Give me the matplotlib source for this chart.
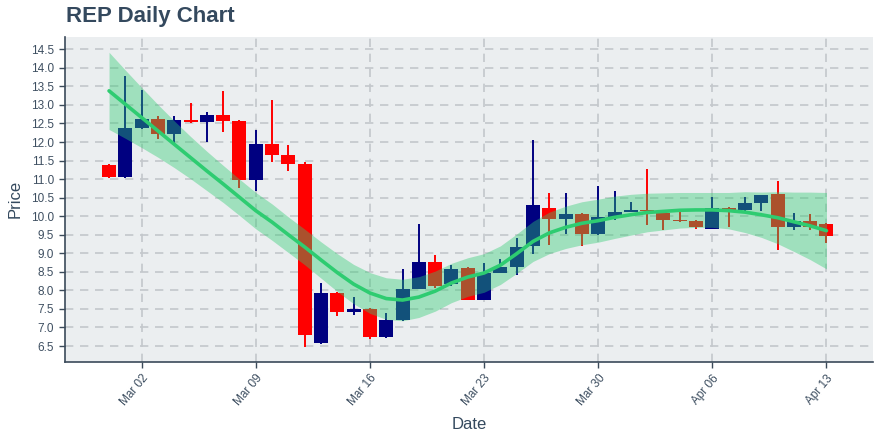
import datetime as dt
import matplotlib
matplotlib.use("Agg")
import matplotlib.pyplot as plt
import matplotlib.dates as mdates
import numpy as np

# ---- data ----
start_date = "2020-02-29"
n_days = 45

opens = [11.39, 11.07, 12.38, 12.62, 12.23, 12.60, 12.55, 12.73, 12.58, 10.98,
         11.95, 11.64, 11.42, 6.57, 7.93, 7.41, 7.50, 6.74, 7.21, 8.05,
         8.77, 8.18, 8.61, 7.75, 8.48, 8.64, 9.21, 10.23, 9.93, 10.07,
         9.51, 9.98, 10.12, 10.17, 10.10, 9.91, 9.88, 9.66, 10.23, 10.16,
         10.36, 10.60, 9.72, 9.88, 9.80]
highs = [11.40, 13.78, 13.40, 12.70, 12.70, 13.05, 12.81, 13.38, 12.60, 12.32,
         13.13, 11.91, 11.47, 8.20, 7.95, 7.82, 7.52, 7.39, 8.58, 9.79,
         8.95, 8.69, 8.63, 8.74, 8.84, 9.41, 12.06, 10.63, 10.62, 10.08,
         10.82, 10.69, 10.39, 11.27, 10.11, 10.13, 9.89, 10.53, 10.24, 10.53,
         10.57, 10.95, 10.10, 10.07, 9.81]
lows = [11.02, 11.02, 12.35, 12.08, 11.94, 12.50, 11.99, 12.28, 10.75, 10.69,
        11.47, 11.21, 6.47, 6.55, 7.32, 7.35, 6.70, 6.72, 7.17, 8.03,
        8.06, 8.11, 7.73, 7.74, 8.47, 8.41, 8.99, 9.23, 9.51, 9.19,
        9.50, 9.91, 10.11, 9.77, 9.62, 9.84, 9.66, 9.65, 9.71, 10.15,
        10.13, 9.10, 9.64, 9.63, 9.29]
closes = [11.07, 12.38, 12.62, 12.23, 12.60, 12.55, 12.73, 12.58, 10.98, 11.95,
          11.64, 11.42, 6.79, 7.94, 7.41, 7.50, 6.74, 7.21, 8.05, 8.77,
          8.11, 8.58, 7.75, 8.48, 8.64, 9.18, 10.31, 9.93, 10.07, 9.51,
          9.98, 10.12, 10.17, 10.13, 9.90, 9.88, 9.72, 10.23, 10.18, 10.36,
          10.56, 9.70, 9.88, 9.72, 9.46]

trend = [13.38, 13.02, 12.66, 12.30, 11.94, 11.58, 11.22, 10.87, 10.51, 10.15,
         9.84, 9.50, 9.17, 8.82, 8.48, 8.17, 7.93, 7.78, 7.74, 7.82,
         7.98, 8.20, 8.36, 8.47, 8.68, 8.99, 9.32, 9.55, 9.70, 9.81,
         9.88, 9.97, 10.04, 10.10, 10.13, 10.16, 10.17, 10.17, 10.15, 10.11,
         10.04, 9.96, 9.85, 9.74, 9.61]
band_upper = [14.42, 13.94, 13.47, 13.01, 12.57, 12.15, 11.75, 11.37, 11.00, 10.64,
              10.33, 9.98, 9.65, 9.31, 8.99, 8.70, 8.48, 8.34, 8.30, 8.37,
              8.52, 8.73, 8.88, 8.99, 9.20, 9.52, 9.86, 10.11, 10.27, 10.39,
              10.46, 10.54, 10.59, 10.62, 10.63, 10.64, 10.64, 10.64, 10.64, 10.66,
              10.65, 10.66, 10.65, 10.65, 10.64]
band_lower = [12.34, 12.10, 11.85, 11.59, 11.31, 11.01, 10.69, 10.37, 10.02, 9.66,
              9.35, 9.02, 8.69, 8.33, 7.97, 7.64, 7.38, 7.22, 7.18, 7.27,
              7.44, 7.67, 7.84, 7.95, 8.16, 8.46, 8.78, 8.99, 9.13, 9.23,
              9.30, 9.40, 9.49, 9.58, 9.63, 9.68, 9.70, 9.70, 9.66, 9.56,
              9.43, 9.26, 9.05, 8.83, 8.58]

y_ticks = [6.5, 7.0, 7.5, 8.0, 8.5, 9.0, 9.5, 10.0, 10.5, 11.0, 11.5, 12.0, 12.5, 13.0, 13.5, 14.0, 14.5]
x_tick_dates = ["2020-03-02", "2020-03-09", "2020-03-16", "2020-03-23", "2020-03-30", "2020-04-06", "2020-04-13"]

# ---- style ----
text_color = "#34495e"
tick_color = "#3e4f61"
up_color = "#000080"
down_color = "#ff0000"
band_color = "#2ecc71"
bg_color = "#ebeef0"
grid_color = "#c3c7cb"

plt.rcParams["font.family"] = ["Liberation Sans", "DejaVu Sans"]

dates = [dt.datetime.strptime(start_date, "%Y-%m-%d") + dt.timedelta(days=i) for i in range(n_days)]
xd = mdates.date2num(dates)

fig = plt.figure(figsize=(8.8, 4.4), dpi=100)
ax = fig.add_axes([0.0735, 0.1773, 0.9185, 0.7393])
ax.set_facecolor(bg_color)
fig.patch.set_facecolor("white")

o = np.array(opens); c = np.array(closes); h = np.array(highs); l = np.array(lows)
colors = [up_color if cc >= oo else down_color for oo, cc in zip(o, c)]
ax.vlines(xd, l, h, colors=colors, linewidth=1.4, zorder=2)
ax.bar(xd, np.abs(c - o), bottom=np.minimum(o, c), width=0.86, color=colors,
       linewidth=0, zorder=3, align="center")

ax.fill_between(xd, band_lower, band_upper, color=band_color, alpha=0.4,
                linewidth=0, zorder=4)
ax.plot(xd, trend, color=band_color, linewidth=2.6, zorder=5, solid_capstyle="round")

# axes
mar02 = mdates.date2num(dt.datetime(2020, 3, 2))
ax.set_xlim(mar02 - 4.72, mar02 + 44.85)
ax.set_ylim(6.07, 14.84)
ax.set_yticks(y_ticks)
ax.set_yticklabels([f"{v:.1f}" for v in y_ticks])
xt = [mdates.date2num(dt.datetime.strptime(s, "%Y-%m-%d")) for s in x_tick_dates]
ax.set_xticks(xt)
ax.set_xticklabels([dt.datetime.strptime(s, "%Y-%m-%d").strftime("%b %d") for s in x_tick_dates])

ax.grid(True, color=grid_color, linestyle=(0, (5, 4)), linewidth=1.2, zorder=0)
ax.set_axisbelow(True)
for side in ["top", "right"]:
    ax.spines[side].set_visible(False)
for side in ["left", "bottom"]:
    ax.spines[side].set_color("#3b4a5a")
    ax.spines[side].set_linewidth(1.2)

ax.tick_params(axis="both", colors="#3b4a5a", labelcolor=tick_color, labelsize=8.5,
               length=4, width=1, direction="out")
for lab in ax.get_xticklabels():
    lab.set_rotation(50)
    lab.set_ha("right")
    lab.set_rotation_mode("anchor")

ax.set_xlabel("Date", color=text_color, fontsize=12, labelpad=6)
ax.set_ylabel("Price", color=text_color, fontsize=12, labelpad=6)
fig.text(0.075, 0.963, "REP Daily Chart", color=text_color, fontsize=16,
         fontweight="bold", ha="left", va="center")

fig.savefig("out.png", dpi=100, facecolor="white")
